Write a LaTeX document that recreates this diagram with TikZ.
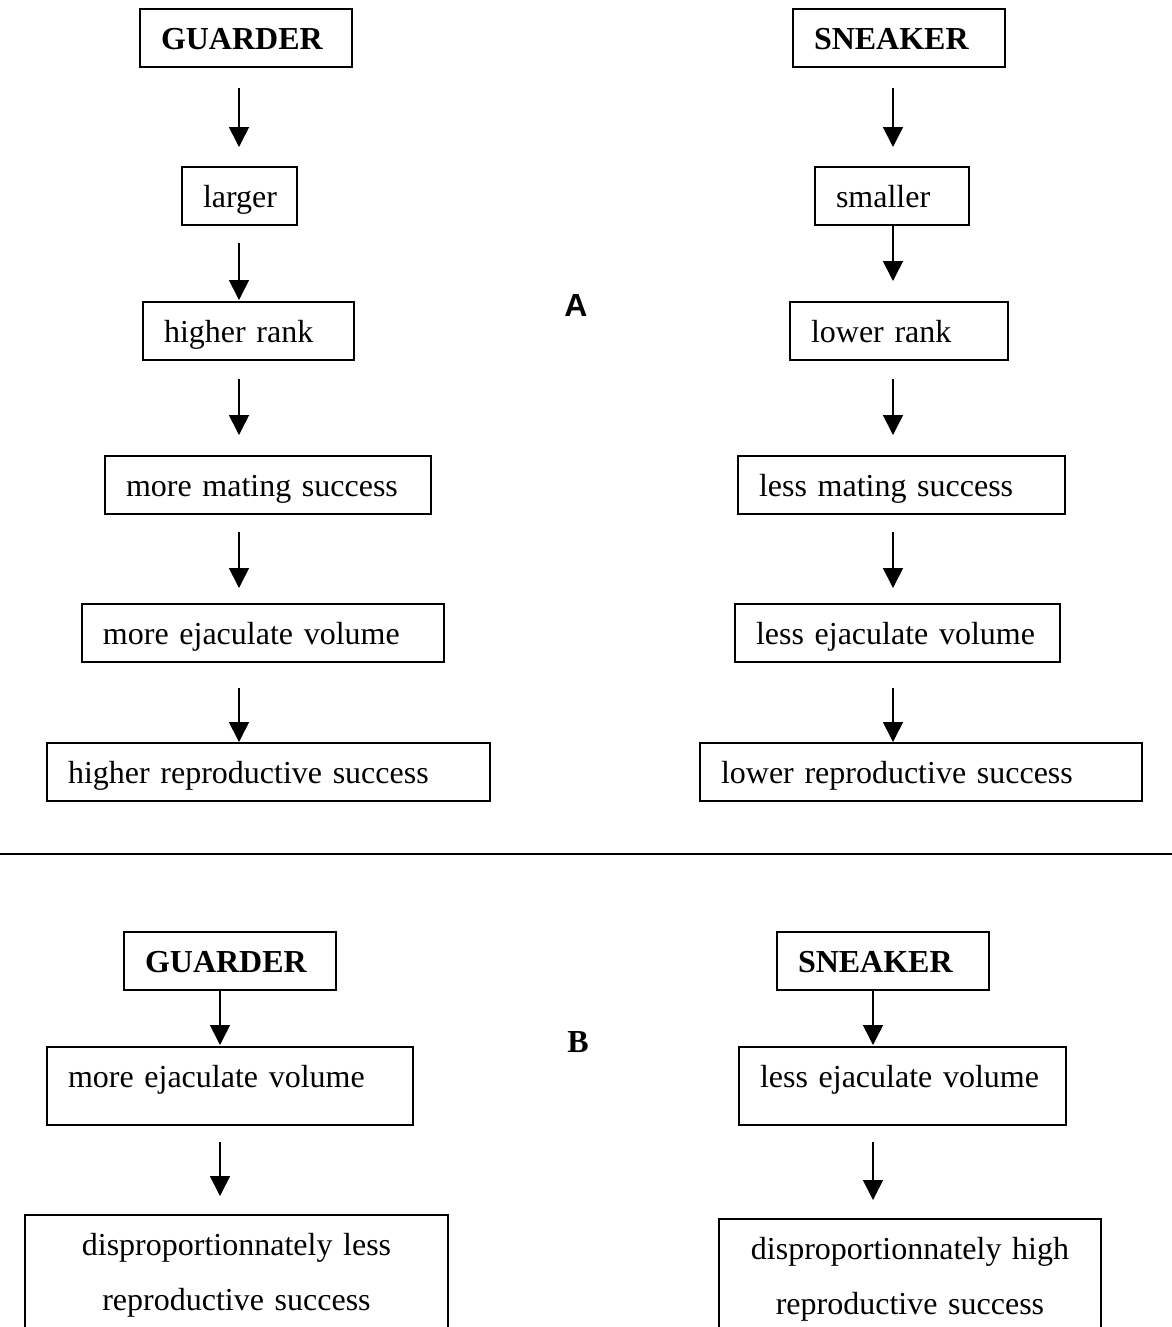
\documentclass[tikz,border=0pt]{standalone}
\usepackage{fontspec}
\setmainfont{Liberation Serif}
\newfontfamily\labelsans{Liberation Sans}
\usetikzlibrary{arrows.meta}
\tikzset{
	stage/.style = {draw, line width=.6pt, anchor=north west, outer sep=0pt,
		inner xsep=7.875pt, inner ysep=0pt, text height=15pt, text depth=6.75pt,
		align=left, font=\fontsize{12}{14}\selectfont},
	head/.style = {stage, font=\fontsize{12}{14}\selectfont\bfseries},
	tall/.style = {text depth=14.25pt},
	outcome/.style = {draw, line width=.6pt, anchor=north west, outer sep=0pt,
		inner xsep=7.875pt, inner ysep=0pt, text height=15pt, text depth=45pt,
		align=center, font=\fontsize{12}{20.625}\selectfont},
	down/.style = {-{Triangle[length=7.5pt,width=7.5pt]}, line width=.6pt},
}
\begin{document}
\begin{tikzpicture}[x=.375pt, y=-.375pt]
		\clip (0,0) rectangle (1172,1327);
		\fill[white] (0,0) rectangle (1172,1327);
		\coordinate (colL) at (239,0);
		\coordinate (colR) at (893,0);
		\coordinate (colBL) at (220,0);
		\coordinate (colBR) at (873,0);

		% part A, guarder
		\node[head, text width=63.75pt] (g0) at (140,9) {GUARDER};
		\node[stage, text width=27.375pt] (g1) at (182,167) {larger};
		\node[stage, text width=63.375pt] (g2) at (143,302) {higher rank};
		\node[stage, text width=106.5pt] (g3) at (105,456) {more mating success};
		\node[stage, text width=120pt] (g4) at (82,604) {more ejaculate volume};
		\node[stage, text width=150.375pt] (g5) at (47,743) {higher reproductive success};

		% part A, sneaker
		\node[head, text width=63.75pt] (s0) at (793,9) {SNEAKER};
		\node[stage, text width=42pt] (s1) at (815,167) {smaller};
		\node[stage, text width=66pt] (s2) at (790,302) {lower rank};
		\node[stage, text width=106.875pt] (s3) at (738,456) {less mating success};
		\node[stage, text width=106.125pt] (s4) at (735,604) {less ejaculate volume};
		\node[stage, text width=150pt] (s5) at (700,743) {lower reproductive success};

		\draw[down, shorten <=7.875pt, shorten >=7.5pt] (colL |- g0.south) -- (colL |- g1.north); %g0 to g1
		\draw[down, shorten <=6.75pt, shorten >=.75pt] (colL |- g1.south) -- (colL |- g2.north); %g1 to g2
		\draw[down, shorten <=7.125pt, shorten >=7.875pt] (colL |- g2.south) -- (colL |- g3.north); %g2 to g3
		\draw[down, shorten <=6.75pt, shorten >=6pt] (colL |- g3.south) -- (colL |- g4.north); %g3 to g4
		\draw[down, shorten <=9.75pt, shorten >=.375pt] (colL |- g4.south) -- (colL |- g5.north); %g4 to g5

		\draw[down, shorten <=7.875pt, shorten >=7.5pt] (colR |- s0.south) -- (colR |- s1.north); %s0 to s1
		\draw[down, shorten >=7.875pt] (colR |- s1.south) -- (colR |- s2.north); %s1 to s2
		\draw[down, shorten <=7.125pt, shorten >=7.875pt] (colR |- s2.south) -- (colR |- s3.north); %s2 to s3
		\draw[down, shorten <=6.75pt, shorten >=6pt] (colR |- s3.south) -- (colR |- s4.north); %s3 to s4
		\draw[down, shorten <=9.75pt, shorten >=.375pt] (colR |- s4.south) -- (colR |- s5.north); %s4 to s5

		\node[font=\fontsize{12}{14}\selectfont\labelsans\bfseries] (markA) at (576,305) {A};

		% separator
		\coordinate (ruleW) at (0,854);
		\coordinate (ruleE) at (1172,854);
		\draw[line width=.75pt] (ruleW) -- (ruleE);

		% part B
		\node[head, text width=63.75pt] (bg0) at (124,932) {GUARDER};
		\node[stage, tall, text width=121.5pt] (bg1) at (47,1047) {more ejaculate volume};
		\node[outcome, text width=142.875pt] (bg2) at (25,1215) {disproportionnately less\\reproductive success};

		\node[head, text width=63.75pt] (bs0) at (777,932) {SNEAKER};
		\node[stage, tall, text width=106.875pt] (bs1) at (739,1047) {less ejaculate volume};
		\node[outcome, text width=127.5pt] (bs2) at (719,1219) {disproportionnately high\\reproductive success};

		\draw[down, shorten >=.75pt] (colBL |- bg0.south) -- (colBL |- bg1.north); %bg0 to bg1
		\draw[down, shorten <=6.375pt, shorten >=7.125pt] (colBL |- bg1.south) -- (colBL |- bg2.north); %bg1 to bg2
		\draw[down, shorten >=.75pt] (colBR |- bs0.south) -- (colBR |- bs1.north); %bs0 to bs1
		\draw[down, shorten <=6.375pt, shorten >=7.125pt] (colBR |- bs1.south) -- (colBR |- bs2.north); %bs1 to bs2

		\node[font=\fontsize{12}{14}\selectfont\bfseries] (markB) at (578,1042) {B};
	\end{tikzpicture}
\end{document}
